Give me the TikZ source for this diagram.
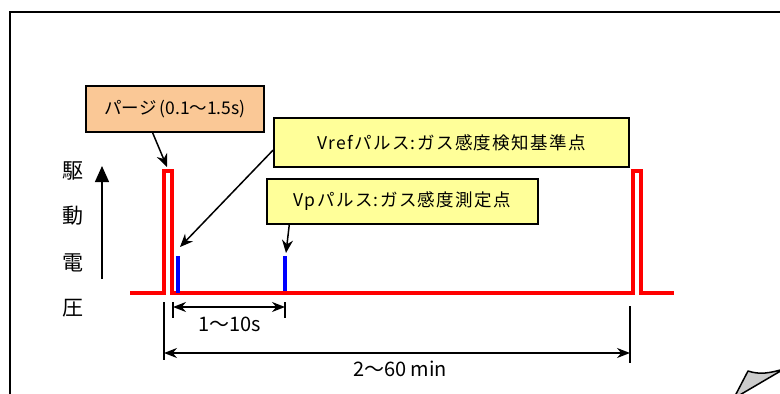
\documentclass[tikz,border=0pt]{standalone}
\usepackage{fontspec}
\setmainfont{Noto Sans CJK JP}
\usetikzlibrary{arrows.meta,calc}
\definecolor{peach}{RGB}{250,200,150}
\definecolor{lyellow}{RGB}{255,255,153}
\definecolor{pulsered}{RGB}{255,0,0}
\definecolor{pulseblue}{RGB}{0,0,255}
\tikzset{
  callout/.style={draw=black, line width=1.9pt, minimum height=46pt, inner sep=0pt, font=\fontsize{17.5}{19}\selectfont},
  pointer/.style={-{Stealth[length=13pt,width=11pt]}, line width=1.5pt},
  dimarrow/.style={{Stealth[length=13pt,width=10pt]}-{Stealth[length=13pt,width=10pt]}, line width=1.4pt},
  tick/.style={line width=1.3pt},
  pulse/.style={pulsered, line width=4.3pt},
  vpulse/.style={pulseblue, line width=3.4pt},
  axislabel/.style={font=\fontsize{21}{23}\selectfont, inner sep=0pt},
  dimlabel/.style={font=\fontsize{20}{22}\selectfont, inner sep=0pt}
}
\begin{document}
\begin{tikzpicture}[x=1pt,y=-1pt]
\useasboundingbox (0,0) rectangle (780,394);
\fill[white] (0,0) rectangle (780,394);
% frame
\draw[line width=1.7pt] (10,405) -- (10,12) -- (790,12);
% pulses
\draw[pulse] (130,293) -- (164,293) -- (164,171) -- (172,171) -- (172,293) -- (633,293) -- (633,171) -- (641,171) -- (641,293) -- (674,293);
\draw[vpulse] (178,256) -- (178,293);
\draw[vpulse] (285,256) -- (285,291);
% pulse targets
\coordinate (purgetip) at (167,167);
\coordinate (vreftip) at (180,247);
\coordinate (vptip) at (286,253);
% boxes
\node[callout, fill=peach, minimum width=178pt] (purge) at (175,109) {パージ\hspace{3pt}(0.1〜1.5s)};
\node[callout, fill=lyellow, minimum width=355pt, minimum height=49pt] (vref) at (451.5,142.5) {\addfontfeature{LetterSpace=8}Vrefパルス:ガス感度検知基準点};
\node[callout, fill=lyellow, minimum width=271pt, minimum height=45pt] (vp) at (402.5,201.5) {\addfontfeature{LetterSpace=8}Vpパルス:ガス感度測定点};
% pointers
\draw[pointer] ($(purge.south west)!0.376!(purge.south east)$) -- (purgetip);
\draw[pointer] ($(vref.north west)!0.65!(vref.south west)$) -- (vreftip);
\draw[pointer] ($(vp.south west)!0.085!(vp.south east)$) -- (vptip);
% axis
\coordinate (axlow) at (102,279);
\coordinate (axhigh) at (102,166);
\draw[-{Triangle[length=16pt,width=14pt]}, line width=1.4pt] (axlow) -- (axhigh);
\node[axislabel] (l1) at (73,171) {駆};
\node[axislabel] (l2) at (73,216) {動};
\node[axislabel] (l3) at (73,263) {電};
\node[axislabel] (l4) at (73,308) {圧};
% dimension 1-10s
\coordinate (t1a) at (173,302); \coordinate (t1b) at (173,318);
\coordinate (t2a) at (285,302); \coordinate (t2b) at (285,318);
\draw[tick] (t1a) -- (t1b);
\draw[tick] (t2a) -- (t2b);
\draw[dimarrow] (173,307) -- (285,307);
\node[dimlabel] (d1) at (230,324) {1〜10s};
% dimension 2-60 min
\coordinate (t3a) at (164,302); \coordinate (t3b) at (164,360);
\coordinate (t4a) at (630,306); \coordinate (t4b) at (630,363);
\draw[tick] (t3a) -- (t3b);
\draw[tick] (t4a) -- (t4b);
\draw[dimarrow] (164,353) -- (630,353);
\node[dimlabel] (d2) at (400,369) {2〜60 min};
% page curl
\draw[fill=black!20, line width=1.5pt, line join=round] (735,396) -- (748,371) .. controls (760,375) and (770,373) .. (784,369) -- (738,396);
\end{tikzpicture}
\end{document}
